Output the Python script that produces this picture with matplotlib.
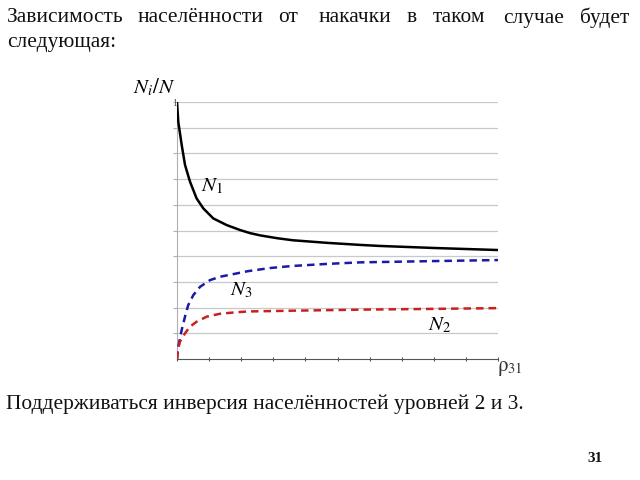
import matplotlib
matplotlib.use("Agg")
import matplotlib.pyplot as plt

plt.rcParams['mathtext.fontset'] = 'stix'
plt.rcParams['font.family'] = ['Liberation Serif', 'DejaVu Serif']

# data
n1_x = [0, 0.04, 0.146, 0.25, 0.405, 0.61, 0.82, 1.13, 1.55, 1.96, 2.27, 2.59, 3.12, 3.61, 4.67, 5.7, 6.3, 8.0, 10.0]
n1_y = [1.0, 0.923, 0.833, 0.755, 0.69, 0.625, 0.586, 0.547, 0.521, 0.502, 0.490, 0.481, 0.470, 0.462, 0.452, 0.444, 0.440, 0.432, 0.424]

n3_x = [0, 0.04, 0.146, 0.25, 0.35, 0.51, 0.72, 1.03, 1.34, 1.86, 2.22, 2.9, 3.6, 4.67, 5.7, 8.0, 10.0]
n3_y = [0, 0.048, 0.113, 0.165, 0.21, 0.249, 0.281, 0.307, 0.32, 0.333, 0.342, 0.354, 0.362, 0.370, 0.376, 0.381, 0.385]

n2_x = [0, 0.03, 0.09, 0.25, 0.405, 0.61, 0.93, 1.34, 1.86, 2.22, 3.6, 4.67, 5.7, 8.0, 10.0]
n2_y = [0, 0.035, 0.067, 0.10, 0.126, 0.145, 0.165, 0.176, 0.182, 0.185, 0.188, 0.190, 0.192, 0.195, 0.198]

x_ticks = list(range(0, 11))
y_grid = [i / 10 for i in range(1, 11)]

title_words = ["Зависимость", "населённости", "от", "накачки", "в", "таком", "случае", "будет"]
title_x = [7, 138, 278, 319, 407, 433, 503, 580]
title_line2 = "следующая:"
bottom_text = "Поддерживаться инверсия населённостей уровней 2 и 3."
page_num = "31"

fig = plt.figure(figsize=(6.4, 4.8), dpi=100)
W, H = 640, 480

FS = 15.4
for w, xp in zip(title_words, title_x):
    fig.text(xp / W, 1 - 18 / H, w, fontsize=FS, va='center', ha='left', color='#111111')
fig.text(7 / W, 1 - 43 / H, title_line2, fontsize=FS, va='center', ha='left', color='#111111')
fig.text(6 / W, 1 - 404 / H, bottom_text, fontsize=FS, va='center', ha='left', color='#111111')
fig.text(595 / W, 1 - 458 / H, page_num, fontsize=11, va='center', ha='center', fontweight='bold', color='#111111')

ax = fig.add_axes([177 / W, 1 - 359 / H, 321 / W, 257 / H])
ax.set_xlim(0, 10)
ax.set_ylim(0, 1)
for gy in y_grid:
    ax.axhline(gy, color='#c8c8c8', lw=0.9, zorder=0)

ax.plot(n1_x, n1_y, color='black', lw=1.8, zorder=3)
ax.plot(n3_x, n3_y, color='#1a1aa8', lw=1.8, ls=(0, (3, 2)), zorder=3)
ax.plot(n2_x, n2_y, color='#cc2020', lw=1.8, ls=(0, (3, 2)), zorder=3)

for s in ['top', 'right']:
    ax.spines[s].set_visible(False)
ax.spines['left'].set_color('#b0b0b0')
ax.spines['bottom'].set_color('#555555')
ax.set_xticks(x_ticks)
ax.set_xticklabels([])
ax.set_yticks(y_grid)
ax.set_yticklabels([])
ax.tick_params(axis='x', length=3, color='#555555', direction='inout')
ax.tick_params(axis='y', length=3, color='#b0b0b0')

ax.text(1.09, 0.673, r'$N_1$', fontsize=15, ha='center', va='center')
ax.text(2.0, 0.268, r'$N_3$', fontsize=15, ha='center', va='center')
ax.text(8.19, 0.132, r'$N_2$', fontsize=15, ha='center', va='center')

fig.text(154 / W, 1 - 87 / H, r'$N_i/N$', fontsize=15, ha='center', va='center')
fig.text(175 / W, 1 - 103 / H, '1', fontsize=7, ha='center', va='center', color='#555555')
fig.text(510 / W, 1 - 369 / H, r'$\mathrm{\rho}_{31}$', fontsize=15, ha='center', va='center', color='#333333')

fig.savefig('out.png', dpi=100)
